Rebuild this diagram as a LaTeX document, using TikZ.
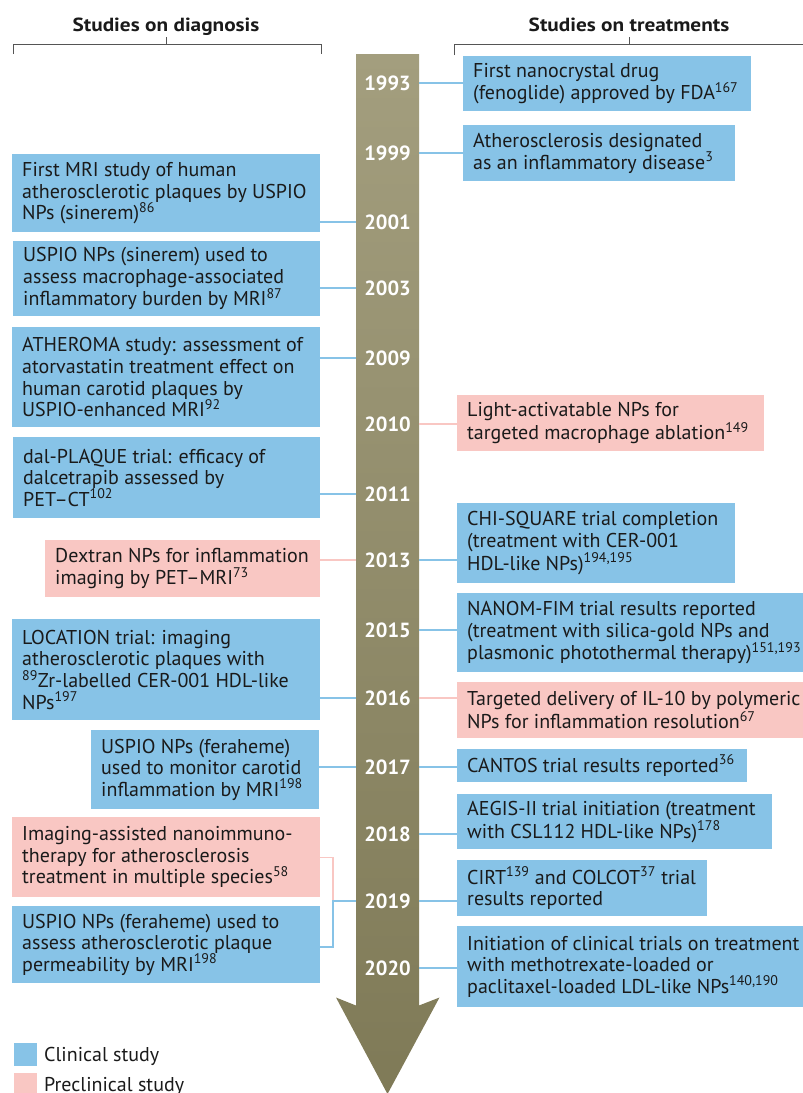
\documentclass[tikz,border=0pt]{standalone}
\usepackage{fontspec}
\setmainfont{PT Sans}
\newfontfamily\hdfont{PT Sans}[FakeStretch=1.12]
\usetikzlibrary{calc}
\definecolor{clin}{HTML}{87C3E7}
\definecolor{precl}{HTML}{F9C7C3}
\definecolor{shafttop}{HTML}{A39E7E}
\definecolor{shaftbot}{HTML}{7F7A57}
\definecolor{brk}{HTML}{555555}
\definecolor{ink}{HTML}{1A1A1A}
\tikzset{
 clinbox/.style={fill=clin, draw=none, inner sep=0},
 preclbox/.style={fill=precl, draw=none, inner sep=0},
 txt/.style={align=left, inner sep=0, font=\fontsize{20}{21.7}\selectfont, text=ink},
 yr/.style={font=\fontsize{20.5}{20}\selectfont\bfseries, text=white, minimum width=63pt, inner sep=0, minimum height=14pt},
 blink/.style={draw=clin, line width=1.3pt},
 plink/.style={draw=precl, line width=1.3pt},
 headtxt/.style={font=\hdfont\fontsize{19}{20}\selectfont\bfseries, text=ink},
 brack/.style={draw=brk, line width=0.9pt},
}
% name, style, x1, y1, x2, y2, text
\newcommand\tlbox[7]{%
 \node[#2, anchor=north west, minimum width={(#5-#3)*1pt}, minimum height={(#6-#4)*1pt}] (#1) at (#3,#4) {};
 \node[txt, anchor=west] (#1t) at ([xshift=10pt]#1.west) {#7};
}
\begin{document}
\begin{tikzpicture}[x=1pt,y=-1pt]
\useasboundingbox (0,0) rectangle (803,1093);
% headers
\node[headtxt, anchor=base] (hd) at (166,31) {Studies on diagnosis};
\node[headtxt, anchor=base] (ht) at (629,31) {Studies on treatments};
\draw[brack] (13,54) -- (13,44) -- (321,44) -- (321,54);
\draw[brack] (hd.south |- 0,44) -- (hd.south |- 0,37);
\draw[brack] (454,55) -- (454,44) -- (803,44);
\draw[brack] (ht.south |- 0,44) -- (ht.south |- 0,37);
% arrow
\shade[top color=shafttop, bottom color=shaftbot] (356,54) -- (419,54) -- (419,1005.5) -- (439.5,997.5) -- (387.5,1094) -- (336,997.5) -- (356,1005.5) -- cycle;
% years
\foreach \yy/\pos in {1993/83,1999/153,2001/222,2003/288,2009/358,2010/424,2011/494,2013/560,2015/630,2016/698,2017/767,2018/834,2019/901,2020/968}{
 \node[yr] (y\yy) at (387.5,\pos) {\yy};
}
% left boxes
\tlbox{l1}{clinbox}{12}{154}{320}{232}{First MRI study of human\\atherosclerotic plaques by USPIO\\NPs (sinerem)\textsuperscript{86}}
\tlbox{l2}{clinbox}{13}{241}{320}{316}{USPIO NPs (sinerem) used to\\assess macrophage-associated\\inflammatory burden by MRI\textsuperscript{87}}
\tlbox{l3}{clinbox}{12}{327}{320}{427}{ATHEROMA study: assessment of\\atorvastatin treatment effect on\\human carotid plaques by\\USPIO-enhanced MRI\textsuperscript{92}}
\tlbox{l4}{clinbox}{13}{437}{320}{518}{dal-PLAQUE trial: efficacy of\\dalcetrapib assessed by\\PET–CT\textsuperscript{102}}
\tlbox{l5}{preclbox}{45}{540}{320}{597}{Dextran NPs for inflammation\\imaging by PET–MRI\textsuperscript{73}}
\tlbox{l6}{clinbox}{12}{619}{320}{720}{LOCATION trial: imaging\\atherosclerotic plaques with\\\textsuperscript{89}Zr-labelled CER-001 HDL-like\\NPs\textsuperscript{197}}
\tlbox{l7}{clinbox}{91}{730}{319}{809}{USPIO NPs (feraheme)\\used to monitor carotid\\inflammation by MRI\textsuperscript{198}}
\tlbox{l8}{preclbox}{12}{817}{320}{897}{Imaging-assisted nanoimmuno-\\therapy for atherosclerosis\\treatment in multiple species\textsuperscript{58}}
\tlbox{l9}{clinbox}{12}{906}{320}{983}{USPIO NPs (feraheme) used to\\assess atherosclerotic plaque\\permeability by MRI\textsuperscript{198}}
% right boxes
\tlbox{r1}{clinbox}{463}{56}{751}{111}{First nanocrystal drug\\(fenoglide) approved by FDA\textsuperscript{167}}
\tlbox{r2}{clinbox}{463}{125}{735}{181}{Atherosclerosis designated\\as an inflammatory disease\textsuperscript{3}}
\tlbox{r3}{preclbox}{457}{395}{764}{451}{Light-activatable NPs for\\targeted macrophage ablation\textsuperscript{149}}
\tlbox{r4}{clinbox}{457}{503}{735}{583}{CHI-SQUARE trial completion\\(treatment with CER-001\\HDL-like NPs)\textsuperscript{194,195}}
\tlbox{r5}{clinbox}{457}{593}{803}{672}{NANOM-FIM trial results reported\\(treatment with silica-gold NPs and\\plasmonic photothermal therapy)\textsuperscript{151,193}}
\tlbox{r6}{preclbox}{457}{682}{803}{738}{Targeted delivery of IL-10 by polymeric\\NPs for inflammation resolution\textsuperscript{67}}
\tlbox{r7}{clinbox}{457}{749}{747}{782}{CANTOS trial results reported\textsuperscript{36}}
\tlbox{r8}{clinbox}{457}{794}{772}{849}{AEGIS-II trial initiation (treatment\\with CSL112 HDL-like NPs)\textsuperscript{178}}
\tlbox{r9}{clinbox}{457}{860}{707}{916}{CIRT\textsuperscript{139} and COLCOT\textsuperscript{37} trial\\results reported}
\tlbox{r10}{clinbox}{457}{926}{803}{1007}{Initiation of clinical trials on treatment\\with methotrexate-loaded or\\paclitaxel-loaded LDL-like NPs\textsuperscript{140,190}}
% left connectors
\draw[blink] (y2001.west) -- (l1.east |- y2001.west);
\draw[blink] (y2003.west) -- (l2.east |- y2003.west);
\draw[blink] (y2009.west) -- (l3.east |- y2009.west);
\draw[blink] (y2011.west) -- (l4.east |- y2011.west);
\draw[plink] (y2013.west) -- (l5.east |- y2013.west);
\draw[blink] (y2016.west) -- (l6.east |- y2016.west);
\draw[blink] (y2017.west) -- (l7.east |- y2017.west);
\coordinate (j19) at (333,901);
\draw[plink] (l8.east) -- (l8.east -| j19) -- (j19);
\draw[blink] (l9.east |- 0,947) -- (j19 |- 0,947) -- (j19) -- (y2019.west);
% right connectors
\draw[blink] (y1993.east) -- (r1.west |- y1993.east);
\draw[blink] (y1999.east) -- (r2.west |- y1999.east);
\draw[plink] (y2010.east) -- (r3.west |- y2010.east);
\draw[blink] (y2013.east) -- (r4.west |- y2013.east);
\draw[blink] (y2015.east) -- (r5.west |- y2015.east);
\draw[plink] (y2016.east) -- (r6.west |- y2016.east);
\draw[blink] (y2017.east) -- (r7.west |- y2017.east);
\draw[blink] (y2018.east) -- (r8.west |- y2018.east);
\draw[blink] (y2019.east) -- (r9.west |- y2019.east);
\draw[blink] (y2020.east) -- (r10.west |- y2020.east);
% legend
\node[clinbox, anchor=north west, minimum width=23pt, minimum height=23pt] (lgc) at (14,1043) {};
\node[txt, anchor=base west] (lgct) at (44,1061.5) {Clinical study};
\node[preclbox, anchor=north west, minimum width=23pt, minimum height=25pt] (lgp) at (14,1073) {};
\node[txt, anchor=base west] (lgpt) at (44,1091.5) {Preclinical study};
\end{tikzpicture}
\end{document}
